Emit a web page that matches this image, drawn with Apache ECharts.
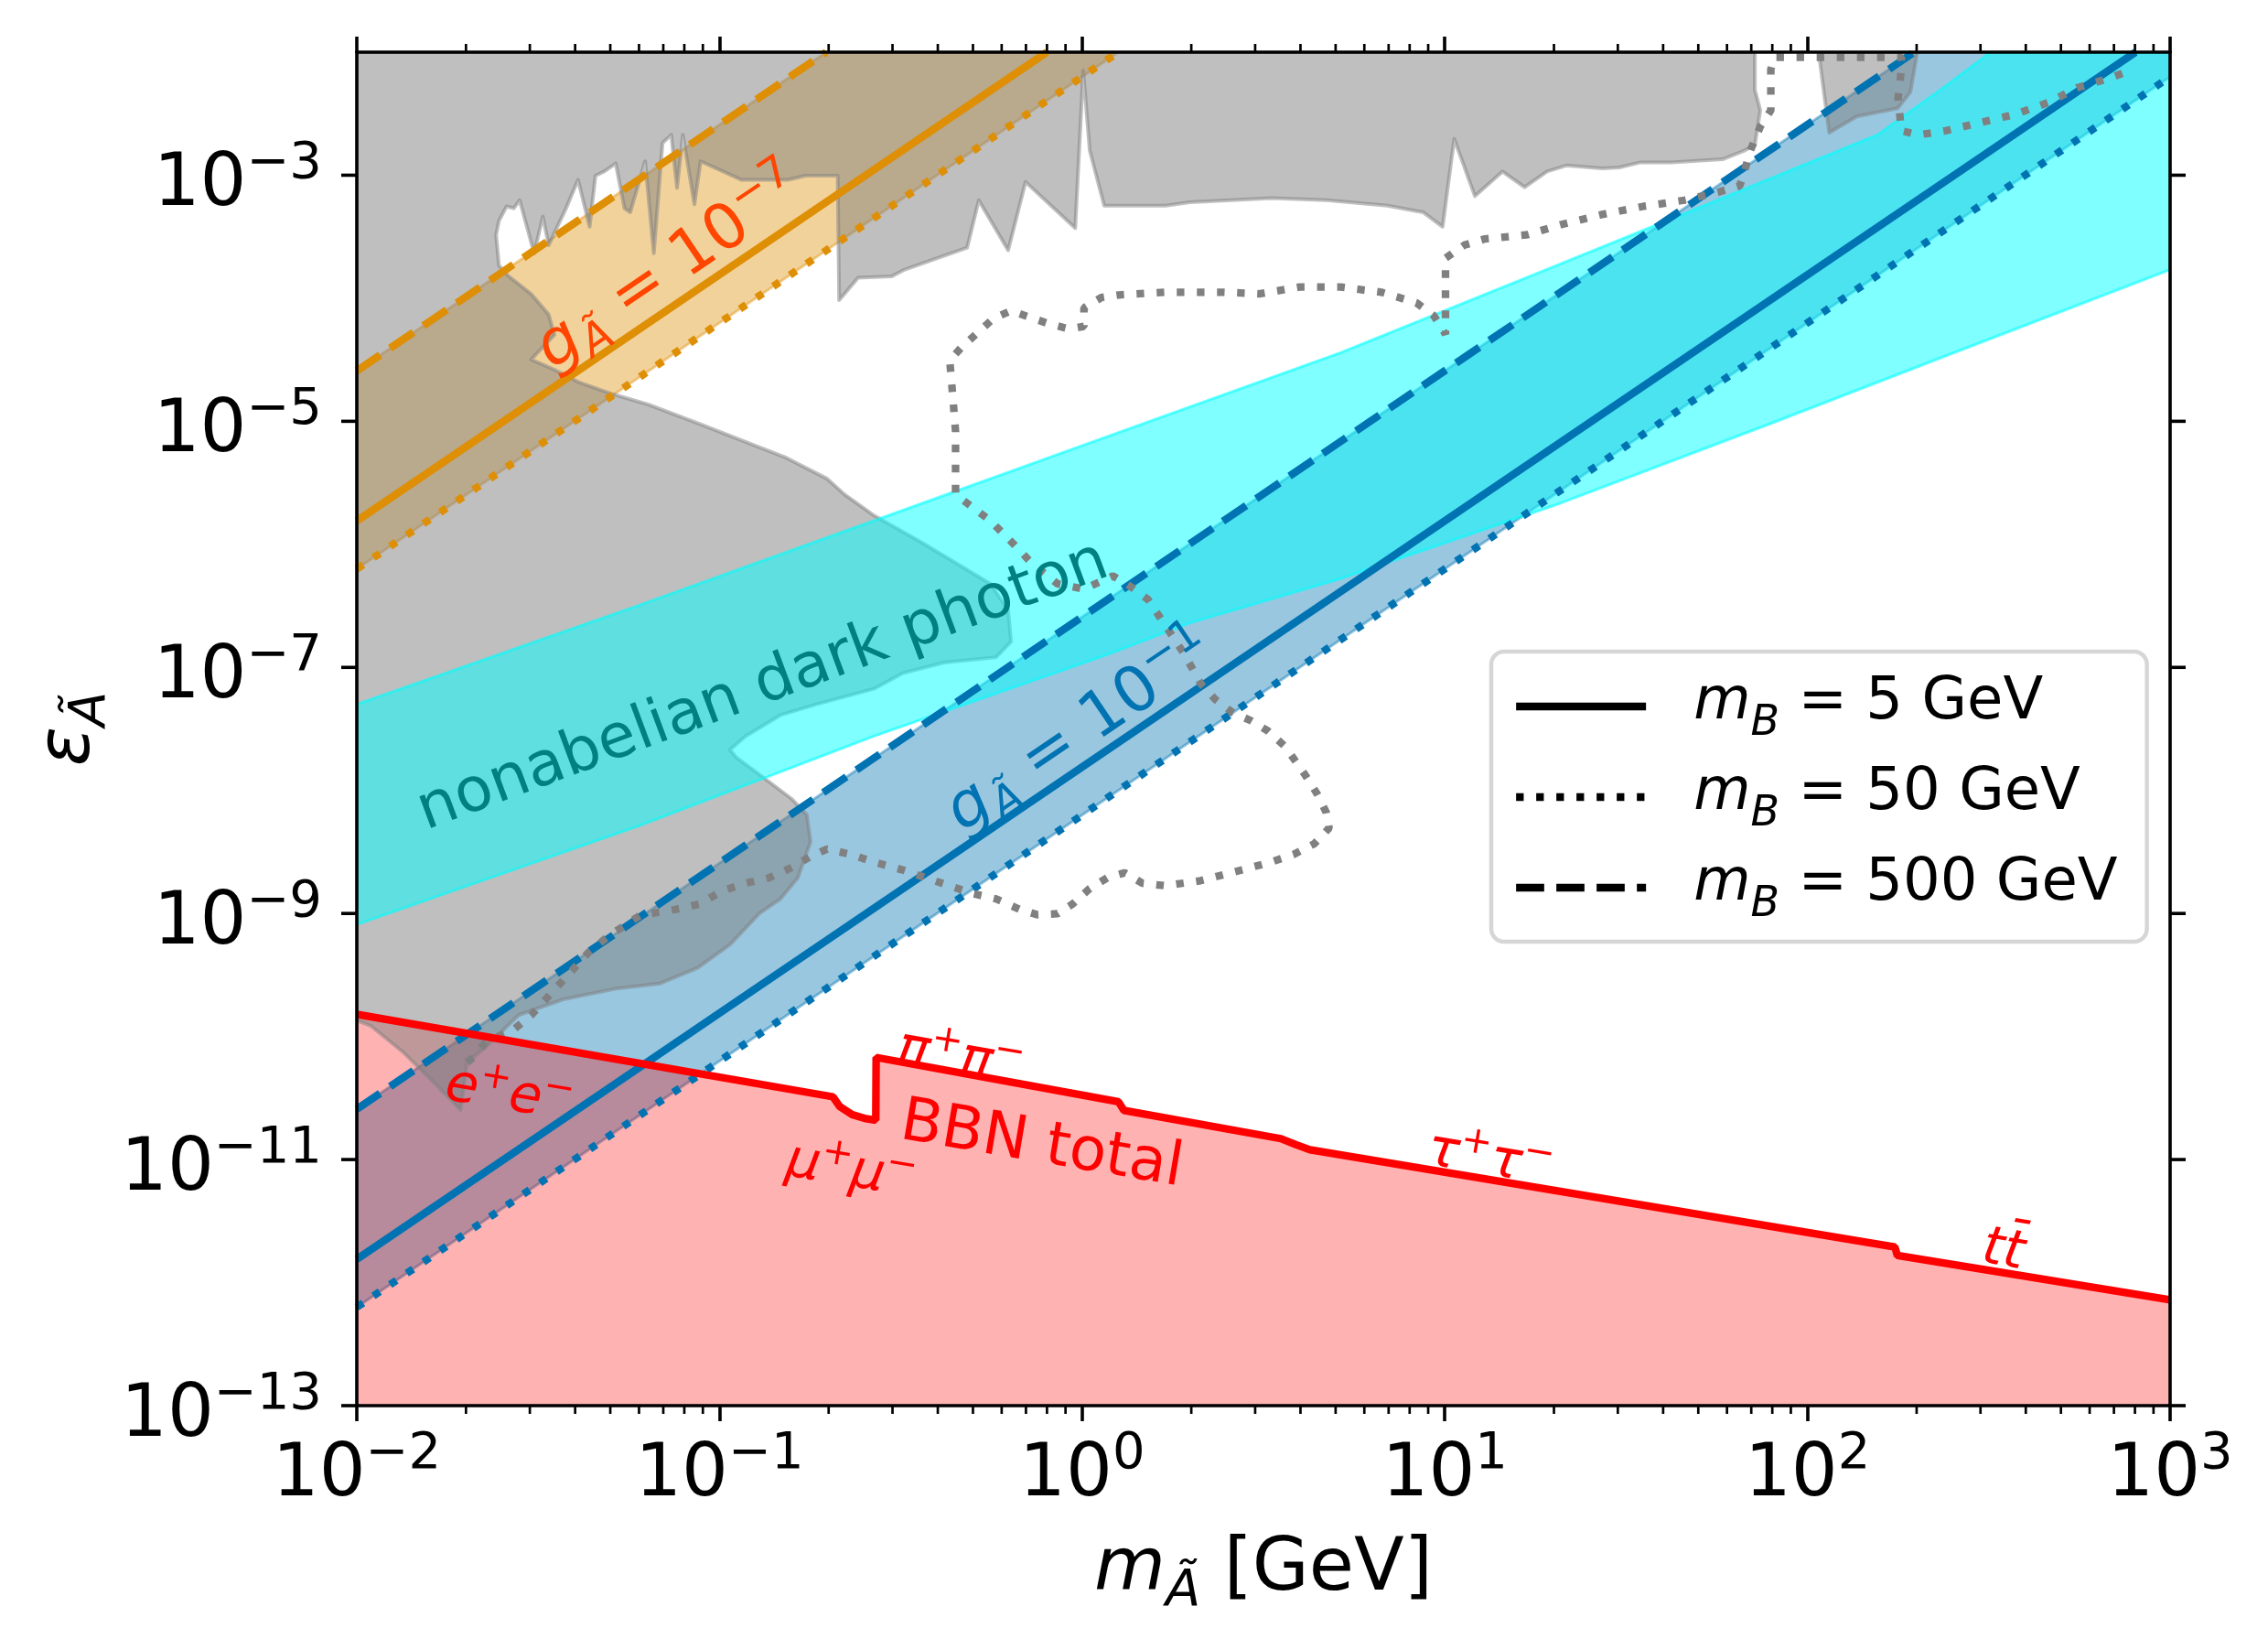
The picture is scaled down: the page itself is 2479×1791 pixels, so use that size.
<!DOCTYPE html>
<html><head><meta charset="utf-8">
<script src="https://cdn.jsdelivr.net/npm/echarts@6/dist/echarts.min.js"></script>
<style>html,body{margin:0;padding:0;background:#fff}#c{width:2479px;height:1791px}</style>
</head><body><div id="c"></div>
<script>
// ---------------- data ----------------
const xRange = [1e-2, 1e3];            // m_A [GeV]
const yRange = [1e-13, 1e-2];          // epsilon
const yTickValues = [1e-13, 1e-11, 1e-9, 1e-7, 1e-5, 1e-3];
const xMinorTicks = [];
for (let k = -2; k <= 2; k++) for (let j = 2; j <= 9; j++) xMinorTicks.push(j * Math.pow(10, k));

// coupling lines  g = 1e-7 (orange) and g = 1e-1 (blue); [m, eps]
const orangeSolid  = [[0.01, 1.55e-6], [0.80, 1e-2]];
const orangeDashed = [[0.01, 2.57e-5], [0.197, 1e-2]];
const orangeDotted = [[0.01, 6.31e-7], [1.259, 1e-2]];
const blueSolid    = [[0.01, 1.55e-12], [803, 1e-2]];
const blueDashed   = [[0.01, 2.57e-11], [197, 1e-2]];
const blueDotted   = [[0.01, 6.31e-13], [1000, 6.31e-3]];
const blueBandCorner = [[1000, 1e-2]];

// curves read as [log10(m/GeV), log10(eps)]
const bbnLog = [[-2.0,-9.82],[-0.687,-10.49],[-0.668,-10.57],[-0.634,-10.635],[-0.600,-10.665],[-0.569,-10.68],
  [-0.568,-10.17],[0.100,-10.53],[0.115,-10.60],[0.548,-10.83],[0.590,-10.88],[0.628,-10.92],
  [2.241,-11.71],[2.248,-11.78],[3.0,-12.14]];

const grayRegionLog = [[-2.0,-2.0],[1.855,-2.0],[1.855,-2.306],[1.870,-2.472],[1.855,-2.755],[1.823,-2.804],[1.766,-2.871],
  [1.624,-2.897],[1.538,-2.897],[1.481,-2.937],[1.434,-2.944],[1.335,-2.921],[1.282,-2.970],[1.220,-3.097],[1.159,-2.970],
  [1.083,-3.170],[1.026,-2.705],[0.994,-3.419],[0.941,-3.302],[0.842,-3.247],[0.675,-3.203],[0.523,-3.186],[0.296,-3.219],
  [0.230,-3.247],[0.061,-3.247],[0.021,-2.80],[0.003,-2.15],[-0.019,-3.430],[-0.156,-3.055],[-0.204,-3.610],[-0.285,-3.204],
  [-0.317,-3.588],[-0.489,-3.767],[-0.526,-3.823],[-0.618,-3.834],[-0.670,-4.015],[-0.674,-3.004],[-0.763,-3.004],
  [-0.811,-3.037],[-0.940,-3.037],[-1.052,-2.887],[-1.069,-3.236],[-1.101,-2.672],[-1.117,-3.103],[-1.133,-2.672],
  [-1.157,-2.738],[-1.181,-3.634],[-1.205,-2.887],[-1.246,-3.302],[-1.262,-3.269],[-1.286,-2.904],[-1.318,-2.970],
  [-1.342,-3.004],[-1.358,-3.419],[-1.390,-3.037],[-1.423,-3.269],[-1.471,-3.568],[-1.487,-3.336],[-1.511,-3.634],
  [-1.551,-3.203],[-1.567,-3.269],[-1.587,-3.253],[-1.608,-3.369],[-1.616,-3.485],[-1.608,-3.734],[-1.583,-3.817],
  [-1.519,-3.966],[-1.471,-4.132],[-1.455,-4.298],[-1.519,-4.498],[-1.455,-4.581],[-1.390,-4.680],[-1.294,-4.780],
  [-1.197,-4.863],[-1.057,-5.019],[-0.928,-5.168],[-0.816,-5.296],[-0.703,-5.467],[-0.655,-5.595],[-0.574,-5.766],
  [-0.446,-5.979],[-0.349,-6.150],[-0.253,-6.321],[-0.204,-6.534],[-0.196,-6.790],[-0.237,-6.918],[-0.381,-6.961],
  [-0.494,-7.046],[-0.574,-7.174],[-0.735,-7.302],[-0.832,-7.388],[-0.928,-7.559],[-0.971,-7.670],[-0.953,-7.734],
  [-0.896,-7.857],[-0.800,-8.071],[-0.759,-8.199],[-0.749,-8.417],[-0.784,-8.711],[-0.832,-8.882],[-0.890,-9.000],
  [-0.970,-9.250],[-1.060,-9.442],[-1.165,-9.570],[-1.289,-9.613],[-1.431,-9.698],[-1.554,-9.826],[-1.643,-10.082],
  [-1.696,-10.210],[-1.714,-10.595],[-1.785,-10.381],[-1.873,-10.125],[-1.962,-9.912],[-2.0,-9.869]];
const grayRegion2Log = [[2.031,-2.0],[2.060,-2.655],[2.136,-2.522],[2.249,-2.456],[2.284,-2.323],[2.303,-2.0]];

const darkPhotonBandLog = [[-2,-7.30],[-1.218,-6.491],[-0.574,-5.808],[0.069,-5.125],[0.713,-4.442],[1.305,-3.738],
  [1.586,-3.402],[2.193,-2.672],[2.382,-2.273],[2.487,-2.041],[2.505,-2.0],[3.0,-2.0],[3.0,-3.767],[2.40,-4.447],
  [1.889,-5.029],[1.305,-5.680],[0.713,-6.278],[0.296,-6.640],[0.069,-6.897],[-0.574,-7.559],[-1.218,-8.284],[-2,-9.09]];

const contourLog = [[-1.696,-10.21],[-1.678,-10.168],[-1.643,-10.040],[-1.572,-9.954],[-1.519,-9.826],[-1.466,-9.655],
  [-1.413,-9.485],[-1.360,-9.314],[-1.307,-9.186],[-1.218,-9.015],[-1.121,-8.967],[-1.057,-8.925],[-0.993,-8.818],
  [-0.928,-8.754],[-0.864,-8.711],[-0.800,-8.626],[-0.751,-8.540],[-0.703,-8.476],[-0.639,-8.519],[-0.574,-8.583],
  [-0.494,-8.647],[-0.430,-8.711],[-0.365,-8.775],[-0.301,-8.839],[-0.237,-8.882],[-0.172,-8.967],[-0.124,-9.010],
  [-0.068,-9.002],[-0.027,-8.925],[0.021,-8.797],[0.069,-8.711],[0.117,-8.669],[0.166,-8.754],[0.230,-8.775],
  [0.327,-8.733],[0.439,-8.647],[0.520,-8.583],[0.584,-8.519],[0.640,-8.434],[0.681,-8.306],[0.673,-8.178],
  [0.648,-8.028],[0.616,-7.879],[0.560,-7.644],[0.512,-7.516],[0.464,-7.431],[0.415,-7.367],[0.367,-7.260],
  [0.327,-7.132],[0.303,-7.004],[0.278,-6.876],[0.230,-6.662],[0.182,-6.449],[0.133,-6.342],[0.085,-6.257],
  [0.005,-6.363],[-0.068,-6.321],[-0.140,-6.150],[-0.188,-6.000],[-0.253,-5.808],[-0.301,-5.702],[-0.349,-5.595],
  [-0.349,-5.381],[-0.349,-5.083],[-0.357,-4.784],[-0.365,-4.506],[-0.333,-4.400],[-0.285,-4.272],[-0.245,-4.165],
  [-0.196,-4.101],[-0.156,-4.143],[-0.092,-4.207],[-0.035,-4.250],[0.005,-4.229],[0.005,-4.079],[0.053,-3.994],
  [0.101,-3.973],[0.230,-3.951],[0.391,-3.951],[0.488,-3.964],[0.600,-3.909],[0.713,-3.909],[0.825,-3.951],
  [0.922,-4.037],[0.970,-4.143],[1.002,-4.293],[1.002,-4.101],[1.002,-3.845],[1.002,-3.674],[1.054,-3.568],
  [1.111,-3.518],[1.225,-3.485],[1.320,-3.402],[1.434,-3.319],[1.548,-3.253],[1.661,-3.203],[1.756,-3.136],
  [1.813,-3.087],[1.823,-3.004],[1.842,-2.804],[1.870,-2.605],[1.899,-2.472],[1.899,-2.140],[1.908,-2.041],
  [2.259,-2.041],[2.259,-2.140],[2.250,-2.373],[2.259,-2.638],[2.306,-2.672],[2.382,-2.638],[2.477,-2.572],
  [2.572,-2.506],[2.667,-2.406],[2.743,-2.290],[2.838,-2.207],[2.895,-2.140]];

const legendNames = ['5', '50', '500'];

const annotations = [
  {kind: 'orangeG', m: 0.0710, eps: 1.95e-4, text: '{g|g}{sub|Ã}{b| = 10}{sup|−7}'},
  {kind: 'blueG',   m: 0.960,  eps: 3.40e-8, text: '{g|g}{sub|Ã}{b| = 10}{sup|−1}'},
  {kind: 'dark',    m: 0.132,  eps: 6.9e-8,  text: 'nonabelian dark photon'},
  {kind: 'bbn',     m: 0.773,  eps: 1.28e-11, text: 'BBN total'},
  {kind: 'proc',    m: 0.0265, eps: 3.77e-11, text: '{i|e}{s|+}{i|e}{s|−}'},
  {kind: 'proc',    m: 0.232,  eps: 9.06e-12, text: '{i|μ}{s|+}{i|μ}{s|−}'},
  {kind: 'proc',    m: 0.465,  eps: 7.5e-11,  text: '{i|π}{s|+}{i|π}{s|−}'},
  {kind: 'proc',    m: 13.4,   eps: 1.12e-11, text: '{i|τ}{s|+}{i|τ}{s|−}'},
  {kind: 'proc',    m: 349,    eps: 2.04e-12, text: '{i|tt̄}'}
];

// ---------------- helpers / styles ----------------
const F = 'DejaVu Sans';
const fromLog = pts => pts.map(p => [Math.pow(10, p[0]), Math.pow(10, p[1])]);
const bbnCurve = fromLog(bbnLog);
const bbnFill = bbnCurve.concat([[xRange[1], yRange[0]], [xRange[0], yRange[0]]]);
const grayRegion = fromLog(grayRegionLog);
const grayRegion2 = fromLog(grayRegion2Log);
const darkPhotonBand = fromLog(darkPhotonBandLog);
const contour = fromLog(contourLog);
const orangeBand = orangeDashed.concat(orangeDotted.slice().reverse());
const blueBand = blueDashed.concat(blueBandCorner, blueDotted.slice().reverse());

function tokZ(size, extra) {
  return Object.assign({fontSize: size, fontFamily: F, lineHeight: size, verticalAlign: 'top'}, extra || {});
}
const tickRich = {b: tokZ(80, {padding: [12, 0, 0, 0]}), s: tokZ(56)};
const nameRich = {
  it: tokZ(80, {fontStyle: 'italic'}),
  sub: tokZ(56, {fontStyle: 'italic', padding: [35, 0, 0, 0]}),
  t: tokZ(80)
};
const legendRich = {
  sp: tokZ(64, {width: 47, lineHeight: 72, padding: [0, 0, 6, 0]}),
  m: tokZ(64, {fontStyle: 'italic', lineHeight: 72, padding: [0, 0, 6, 0]}),
  sub: tokZ(46, {fontStyle: 'italic', padding: [32, 0, 0, 0]}),
  t: tokZ(64, {lineHeight: 72, padding: [0, 0, 6, 0]})
};
const gRich = {
  g: tokZ(69, {fontStyle: 'italic', padding: [10, 0, 9, 0]}),
  sub: tokZ(48, {fontStyle: 'italic', padding: [40, 0, 0, 0]}),
  b: tokZ(69, {padding: [10, 0, 9, 0]}),
  sup: tokZ(48)
};
const procRich = {i: tokZ(58, {fontStyle: 'italic', padding: [8, 0, 0, 0]}), s: tokZ(41)};
const labelStyles = {
  orangeG: {rich: gRich, color: '#ff4500', rotate: 34.15, size: 69},
  blueG:   {rich: gRich, color: '#0173b2', rotate: 34.15, size: 69},
  dark:    {rich: {}, color: '#008080', rotate: 20.4, size: 67},
  bbn:     {rich: {}, color: '#ff0000', rotate: -9.6, size: 66},
  proc:    {rich: procRich, color: '#ff0000', rotate: -9.6, size: 58}
};

function polygonSeries(id, pts, style, z) {
  return {
    type: 'custom', id: id, z: z, silent: true, clip: true,
    data: pts, encode: {x: 0, y: 1},
    renderItem: function (params, api) {
      if (params.dataIndex !== 0) return null;
      return {type: 'polygon', shape: {points: pts.map(p => api.coord(p))}, style: style};
    }
  };
}
function lineSeries(id, data, color, width, type, z) {
  return {type: 'line', id: id, data: data, symbol: 'none', z: z, silent: true,
    lineStyle: {color: color, width: width, type: type, cap: 'butt'}};
}
const LW = 8.3;
const DOT = [8.3, 13.7];
const DASH = [30.7, 13.3];

const option = {
  animation: false,
  backgroundColor: '#ffffff',
  textStyle: {fontFamily: F},
  grid: {left: 390, top: 57, width: 1982, height: 1479, show: false},
  legend: {
    data: [
      {name: '5', lineStyle: {color: '#000', width: LW, type: 'solid'}, itemStyle: {opacity: 0}},
      {name: '50', lineStyle: {color: '#000', width: LW, type: DOT}, itemStyle: {opacity: 0}},
      {name: '500', lineStyle: {color: '#000', width: LW, type: DASH}, itemStyle: {opacity: 0}}
    ],
    orient: 'vertical', left: 1630, top: 712,
    itemWidth: 142, itemHeight: 20, itemGap: 21,
    padding: [24, 32, 17, 23],
    backgroundColor: 'rgba(255,255,255,0.8)',
    borderColor: 'rgba(204,204,204,0.8)', borderWidth: 4.5, borderRadius: 14,
    selectedMode: false,
    formatter: n => '{sp| }{m|m}{sub|B}{t| = ' + n + ' GeV}',
    textStyle: {color: '#000', rich: legendRich}
  },
  xAxis: [{
    type: 'log', logBase: 10, min: xRange[0], max: xRange[1], interval: 1, position: 'bottom', z: 20,
    axisLine: {show: true, onZero: false, lineStyle: {color: '#000', width: 3.6}},
    axisTick: {show: true, length: 17, lineStyle: {color: '#000', width: 3.6}},
    minorTick: {show: false}, splitLine: {show: false},
    axisLabel: {
      margin: 25, color: '#000', rich: tickRich,
      formatter: function (v) {
        const e = Math.round(Math.log10(v));
        return '{b|10}{s|' + (e < 0 ? '−' : '') + Math.abs(e) + '}';
      }
    },
    name: '{it|m}{sub|Ã}{t| [GeV]}', nameLocation: 'middle', nameGap: 140,
    nameTextStyle: {color: '#000', rich: nameRich}
  }, {
    type: 'log', logBase: 10, min: xRange[0], max: xRange[1], interval: 1, position: 'top', z: 20,
    axisLine: {show: true, onZero: false, lineStyle: {color: '#000', width: 3.6}},
    axisTick: {show: true, length: 17, lineStyle: {color: '#000', width: 3.6}},
    axisLabel: {show: false}, splitLine: {show: false}
  }],
  yAxis: [{
    type: 'log', logBase: 10, min: yRange[0], max: yRange[1], position: 'left', z: 20,
    axisLine: {show: true, onZero: false, lineStyle: {color: '#000', width: 3.6}},
    axisTick: {show: false}, axisLabel: {show: false}, splitLine: {show: false},
    name: '{it|ε}{sub|Ã}', nameLocation: 'middle', nameRotate: 90, nameGap: 274,
    nameTextStyle: {color: '#000', rich: nameRich}
  }, {
    type: 'log', logBase: 10, min: yRange[0], max: yRange[1], position: 'right', z: 20,
    axisLine: {show: true, onZero: false, lineStyle: {color: '#000', width: 3.6}},
    axisTick: {show: false}, axisLabel: {show: false}, splitLine: {show: false}
  }],
  series: [
    polygonSeries('orangeBand', orangeBand, {fill: 'rgba(222,143,5,0.4)', stroke: 'rgba(222,143,5,0.4)', lineWidth: 3}, 1),
    polygonSeries('blueBand', blueBand, {fill: 'rgba(1,115,178,0.4)', stroke: 'rgba(1,115,178,0.4)', lineWidth: 3}, 2),
    polygonSeries('bbnFill', bbnFill, {fill: 'rgba(255,0,0,0.3)'}, 3),
    polygonSeries('gray1', grayRegion, {fill: 'rgba(128,128,128,0.5)', stroke: 'rgba(128,128,128,0.5)', lineWidth: 4, lineJoin: 'round'}, 4),
    polygonSeries('gray2', grayRegion2, {fill: 'rgba(128,128,128,0.5)', stroke: 'rgba(128,128,128,0.5)', lineWidth: 4, lineJoin: 'round'}, 4),
    polygonSeries('darkPhoton', darkPhotonBand, {fill: 'rgba(0,255,255,0.5)', stroke: 'rgba(0,255,255,0.6)', lineWidth: 3}, 5),
    lineSeries('oSolid', orangeSolid, '#de8f05', LW, 'solid', 6),
    lineSeries('oDashed', orangeDashed, '#de8f05', LW, DASH, 6),
    lineSeries('oDotted', orangeDotted, '#de8f05', LW, DOT, 6),
    lineSeries('bSolid', blueSolid, '#0173b2', LW, 'solid', 6),
    lineSeries('bDashed', blueDashed, '#0173b2', LW, DASH, 6),
    lineSeries('bDotted', blueDotted, '#0173b2', LW, DOT, 6),
    lineSeries('contour', contour, '#808080', 8.3, [8.3, 13.7], 7),
    lineSeries('bbn', bbnCurve, '#ff0000', 8.3, 'solid', 8),
    // legend entries
    {type: 'line', name: '5', data: [], symbol: 'none', lineStyle: {color: '#000', width: LW, type: 'solid'}, itemStyle: {color: '#000'}},
    {type: 'line', name: '50', data: [], symbol: 'none', lineStyle: {color: '#000', width: LW, type: DOT}, itemStyle: {color: '#000'}},
    {type: 'line', name: '500', data: [], symbol: 'none', lineStyle: {color: '#000', width: LW, type: DASH}, itemStyle: {color: '#000'}},
    // annotations
    {
      type: 'custom', id: 'labels', z: 30, silent: true, clip: false,
      data: annotations.map(a => [a.m, a.eps]), encode: {x: 0, y: 1},
      renderItem: function (params, api) {
        const a = annotations[params.dataIndex];
        const s = labelStyles[a.kind];
        const p = api.coord([api.value(0), api.value(1)]);
        return {type: 'text', x: p[0], y: p[1], rotation: s.rotate * Math.PI / 180,
          style: {text: a.text, rich: s.rich, fill: s.color, fontSize: s.size, fontFamily: F,
            align: 'center', verticalAlign: 'middle'}};
      }
    },
    // y ticks (odd decades, both sides) and labels
    {
      type: 'custom', id: 'yTicks', z: 40, silent: true, clip: false,
      data: yTickValues.map(v => [xRange[0], v]), encode: {x: 0, y: 1},
      renderItem: function (params, api) {
        const v = api.value(1);
        const pL = api.coord([xRange[0], v]);
        const pR = api.coord([xRange[1], v]);
        const e = Math.round(Math.log10(v));
        return {type: 'group', children: [
          {type: 'line', shape: {x1: pL[0] - 17, y1: pL[1], x2: pL[0], y2: pL[1]}, style: {stroke: '#000', lineWidth: 3.6}},
          {type: 'line', shape: {x1: pR[0], y1: pR[1], x2: pR[0] + 17, y2: pR[1]}, style: {stroke: '#000', lineWidth: 3.6}},
          {type: 'text', x: pL[0] - 38, y: pL[1], style: {text: '{b|10}{s|−' + Math.abs(e) + '}', rich: tickRich,
            fill: '#000', align: 'right', verticalAlign: 'middle'}}
        ]};
      }
    },
    // x minor ticks (bottom and top)
    {
      type: 'custom', id: 'xMinor', z: 40, silent: true, clip: false,
      data: xMinorTicks.map(v => [v, yRange[0]]), encode: {x: 0, y: 1},
      renderItem: function (params, api) {
        const v = api.value(0);
        const pB = api.coord([v, yRange[0]]);
        const pT = api.coord([v, yRange[1]]);
        return {type: 'group', children: [
          {type: 'line', shape: {x1: pB[0], y1: pB[1], x2: pB[0], y2: pB[1] + 9}, style: {stroke: '#000', lineWidth: 2.7}},
          {type: 'line', shape: {x1: pT[0], y1: pT[1], x2: pT[0], y2: pT[1] - 9}, style: {stroke: '#000', lineWidth: 2.7}}
        ]};
      }
    }
  ]
};
const chart = echarts.init(document.getElementById('c'), null, {renderer: 'canvas'});
chart.setOption(option);
</script></body></html>
